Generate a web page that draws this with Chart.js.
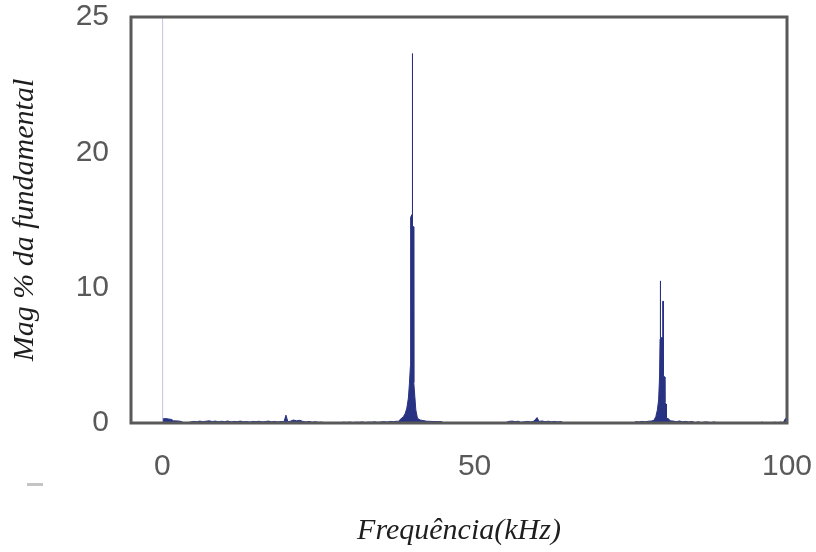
<!DOCTYPE html>
<html>
<head>
<meta charset="utf-8">
<script src="https://cdn.jsdelivr.net/npm/chart.js@4.4.1/dist/chart.umd.min.js"></script>
<style>
  html, body { margin: 0; padding: 0; background: #fff; }
  canvas { display: block; }
</style>
</head>
<body>
<canvas id="spectrum" width="816" height="552"></canvas>
<script>
const NAVY = '#283283';
const LAVENDER = '#c4c0e8';
const FRAME = '#595959';

// spectrum: frequency (kHz) and magnitude (% of fundamental)
const freqKHz = [
  0.0, 0.5, 1.0, 1.5, 1.8, 2.5, 3.0, 3.4, 4.0, 4.6, 5.0, 5.5, 6.0, 6.5, 7.0, 7.5, 8.0, 8.5, 9.0, 9.5,
  10.0, 10.5, 11.0, 11.5, 12.0, 12.5, 13.0, 13.5, 14.0, 14.5, 15.0, 15.5, 16.0, 16.5, 17.0, 17.5, 18.0, 18.5, 19.0, 19.5,
  19.8, 20.1, 20.5, 21.0, 21.5, 22.0, 22.5, 23.0, 23.5, 24.0, 24.5, 25.0, 25.5, 26.0, 26.5, 27.5, 28.5, 29.0, 29.5,
  30.0, 30.5, 31.0, 31.5, 32.0, 32.5, 33.0, 33.5, 34.0, 34.5, 35.0, 35.5, 36.0, 36.5, 37.0, 37.5, 37.8,
  38.1, 38.6, 38.9, 39.15, 39.4, 39.57, 39.72, 39.76, 39.98, 40.03, 40.05, 40.08, 40.22, 40.26, 40.43, 40.59, 40.85,
  41.28, 42.35, 43.5, 44.75, 45.0, 46.0, 47.0, 48.0, 49.0, 50.0, 51.0, 52.0, 53.0, 54.0, 55.0,
  55.5, 56.0, 56.5, 57.0, 57.4, 58.0, 58.5, 59.0, 59.5, 60.0, 60.3, 60.8, 61.3, 61.8, 62.3, 62.8, 63.3, 63.8, 64.2,
  65.0, 66.0, 68.0, 70.0, 72.0, 74.0, 75.5, 75.8, 76.3, 76.8, 77.3, 77.8, 78.3, 78.7,
  79.0, 79.25, 79.45, 79.6, 79.68, 79.73, 79.76, 80.05, 80.12, 80.18, 80.22, 80.42, 80.46, 80.65, 80.7, 81.0, 81.3,
  81.8, 82.3, 82.8, 83.3, 83.8, 84.3, 84.8, 85.3, 85.8, 86.3, 86.8, 87.3, 87.8, 88.3, 88.8, 89.5,
  91.0, 93.0, 95.0, 95.8, 96.0, 96.2, 97.5, 98.0, 98.5, 99.0, 99.4, 99.7, 100.0
];
const magPct = [
  0.30, 0.33, 0.30, 0.26, 0.16, 0.15, 0.12, 0.03, 0.02, 0.08, 0.12, 0.09, 0.14, 0.10, 0.13, 0.16, 0.11, 0.14, 0.09, 0.13,
  0.10, 0.15, 0.08, 0.12, 0.10, 0.14, 0.09, 0.11, 0.07, 0.12, 0.10, 0.13, 0.08, 0.11, 0.14, 0.09, 0.12, 0.08, 0.11, 0.10,
  0.58, 0.10, 0.13, 0.22, 0.16, 0.20, 0.12, 0.08, 0.12, 0.06, 0.10, 0.05, 0.07, 0.02, 0.01, 0.00, 0.02, 0.06, 0.04,
  0.07, 0.03, 0.06, 0.05, 0.08, 0.04, 0.07, 0.06, 0.09, 0.05, 0.08, 0.10, 0.07, 0.12, 0.10, 0.13, 0.12,
  0.27, 0.47, 0.72, 1.10, 1.85, 2.95, 4.20, 15.2, 15.4, 15.4, 27.3, 14.6, 14.5, 3.0, 1.95, 0.96, 0.35,
  0.22, 0.13, 0.11, 0.10, 0.02, 0.01, 0.03, 0.00, 0.02, 0.01, 0.03, 0.00, 0.02, 0.01, 0.03,
  0.12, 0.14, 0.10, 0.13, 0.05, 0.09, 0.12, 0.08, 0.14, 0.40, 0.12, 0.15, 0.10, 0.13, 0.09, 0.12, 0.08, 0.11, 0.02,
  0.00, 0.01, 0.00, 0.01, 0.00, 0.01, 0.02, 0.10, 0.08, 0.12, 0.09, 0.13, 0.15, 0.20,
  0.47, 0.96, 1.70, 3.40, 6.20, 10.5, 6.30, 6.30, 9.00, 9.00, 3.50, 3.40, 1.50, 1.40, 0.35, 0.33, 0.16,
  0.14, 0.10, 0.15, 0.09, 0.12, 0.08, 0.11, 0.03, 0.09, 0.02, 0.08, 0.07, 0.02, 0.08, 0.03, 0.00,
  0.01, 0.00, 0.01, 0.00, 0.09, 0.00, 0.01, 0.06, 0.03, 0.07, 0.02, 0.30, 0.45
];

// the fundamental itself (100 %), runs off the top of the plot
const fundamentalKHz = 0.06;
const fundamentalPct = 100;

const xTickValues = [0, 50, 100];
const yTickValues = [0, 10, 20, 30];
const yTickLabels = ['0', '10', '20', '25'];

const spectrum = freqKHz.map((f, i) => ({ x: f, y: magPct[i] }));

// closed frame around the plot + the stray grey dash under the y labels
const framePlugin = {
  id: 'frame',
  afterDraw(chart) {
    const { ctx, chartArea: a } = chart;
    ctx.save();
    ctx.strokeStyle = FRAME;
    ctx.lineWidth = 3;
    ctx.strokeRect(a.left, a.top, a.right - a.left, a.bottom - a.top);
    ctx.strokeStyle = '#c4c4c4';
    ctx.beginPath();
    ctx.moveTo(27, 484.5);
    ctx.lineTo(43, 484.5);
    ctx.stroke();
    ctx.restore();
  }
};

new Chart(document.getElementById('spectrum'), {
  type: 'line',
  data: {
    datasets: [
      {
        data: [{ x: fundamentalKHz, y: 0 }, { x: fundamentalKHz, y: fundamentalPct }],
        borderColor: LAVENDER,
        borderWidth: 1,
        pointRadius: 0,
        fill: false,
      },
      {
        data: spectrum,
        borderColor: NAVY,
        backgroundColor: NAVY,
        borderWidth: 1,
        pointRadius: 0,
        tension: 0,
        fill: 'origin',
      },
    ],
  },
  options: {
    responsive: false,
    animation: false,
    layout: { padding: { top: 17, right: 29, left: 0, bottom: 0 } },
    plugins: { legend: { display: false }, tooltip: { enabled: false } },
    scales: {
      x: {
        type: 'linear',
        min: -5,
        max: 100,
        grid: { display: false, drawTicks: false },
        border: { display: false },
        afterBuildTicks: s => { s.ticks = xTickValues.map(v => ({ value: v })); },
        afterFit: s => { s.height = 129; s.paddingLeft = 0; s.paddingRight = 0; },
        ticks: {
          padding: 29,
          color: FRAME,
          font: { family: 'Liberation Sans', size: 30, lineHeight: 1 },
          maxRotation: 0,
          callback: v => String(v),
        },
        title: {
          display: true,
          text: 'Frequência(kHz)',
          color: '#1e1e1e',
          padding: { top: 0, bottom: 3 },
          font: { family: 'Liberation Serif', style: 'italic', size: 30, lineHeight: 1.2 },
        },
      },
      y: {
        min: 0,
        max: 30,
        grid: { display: false, drawTicks: false },
        border: { display: false },
        afterBuildTicks: s => { s.ticks = yTickValues.map(v => ({ value: v })); },
        afterFit: s => { s.width = 131; s.paddingTop = 0; s.paddingBottom = 0; },
        ticks: {
          padding: 22,
          color: FRAME,
          font: { family: 'Liberation Sans', size: 30, lineHeight: 1 },
          callback: (v, i) => yTickLabels[i],
        },
        title: {
          display: true,
          text: 'Mag % da fundamental',
          color: '#1e1e1e',
          padding: { top: 7, bottom: 0 },
          font: { family: 'Liberation Serif', style: 'italic', size: 30, lineHeight: 1.2 },
        },
      },
    },
  },
  plugins: [framePlugin],
});
</script>
</body>
</html>
